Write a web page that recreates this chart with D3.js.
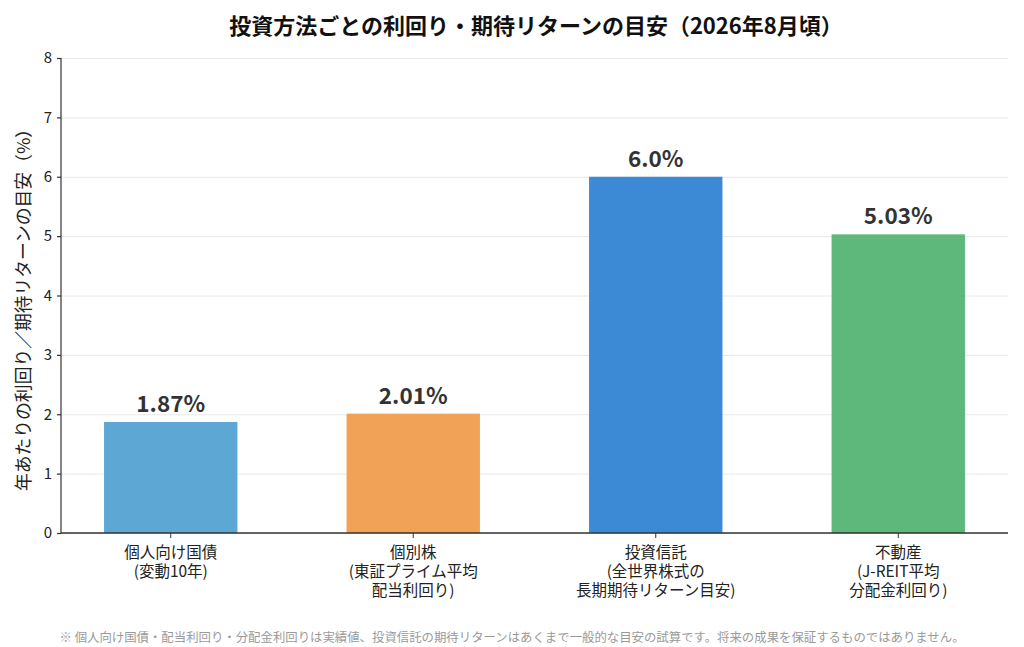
<!DOCTYPE html>
<html>
<head>
<meta charset="utf-8">
<script src="https://cdn.jsdelivr.net/npm/d3@7"></script>
<style>
  body { margin: 0; background: #fff; }
  svg { display: block; }
</style>
</head>
<body>
<svg id="chart" width="1024" height="647"></svg>
<script>
// data
const categories = ["個人向け国債", "個別株", "投資信託", "不動産"];
const subLabels = [
  ["(変動10年)"],
  ["(東証プライム平均", "配当利回り)"],
  ["(全世界株式の", "長期期待リターン目安)"],
  ["(J-REIT平均", "分配金利回り)"]
];
const values = [1.87, 2.01, 6.0, 5.03];
const valueLabels = ["1.87%", "2.01%", "6.0%", "5.03%"];
const colors = ["#5DA7D4", "#F1A256", "#3C89D6", "#5EB87B"];
const yTicks = [0, 1, 2, 3, 4, 5, 6, 7, 8];

const jp = "'Noto Sans CJK JP', 'Noto Sans', sans-serif";

const svg = d3.select("#chart");
const margin = {left: 61, right: 16, top: 58, bottom: 114};
const W = 1024, H = 647;

const x = d3.scaleBand()
  .domain(categories)
  .range([margin.left, W - margin.right])
  .paddingInner(0.45)
  .paddingOuter(0.1775);

const y = d3.scaleLinear()
  .domain([0, 8])
  .range([H - margin.bottom, margin.top]);

// grid
svg.append("g")
  .selectAll("line")
  .data(yTicks)
  .join("line")
  .attr("x1", margin.left)
  .attr("x2", W - margin.right)
  .attr("y1", d => y(d) + 0.5)
  .attr("y2", d => y(d) + 0.5)
  .attr("stroke", "#e8e8e8")
  .attr("stroke-width", 1);

// bars
svg.append("g")
  .selectAll("rect")
  .data(values)
  .join("rect")
  .attr("x", (d, i) => x(categories[i]))
  .attr("y", d => y(d))
  .attr("width", x.bandwidth())
  .attr("height", d => y(0) - y(d))
  .attr("fill", (d, i) => colors[i]);

// value labels
svg.append("g")
  .selectAll("text")
  .data(values)
  .join("text")
  .attr("x", (d, i) => x(categories[i]) + x.bandwidth() / 2)
  .attr("y", d => y(d) - 10)
  .attr("text-anchor", "middle")
  .attr("font-family", jp)
  .attr("font-weight", "bold")
  .attr("font-size", 22.5)
  .attr("fill", "#333")
  .text((d, i) => valueLabels[i]);

// y axis
const yAxis = svg.append("g")
  .attr("transform", `translate(${margin.left},0)`)
  .call(d3.axisLeft(y).tickValues(yTicks).tickSize(4).tickPadding(5));
yAxis.selectAll("text")
  .attr("font-family", jp)
  .attr("font-size", 15)
  .attr("fill", "#222");
yAxis.selectAll("line, path").attr("stroke", "#333").attr("stroke-width", 1.2);
yAxis.select(".domain").attr("d", `M0,${y(8)}V${y(0)}`);

// x axis
const xAxis = svg.append("g")
  .attr("transform", `translate(0,${y(0)})`)
  .call(d3.axisBottom(x).tickSize(5).tickFormat(""));
xAxis.selectAll("line").attr("stroke", "#333");
xAxis.select(".domain").attr("stroke", "#333").attr("stroke-width", 1.4)
  .attr("d", `M${margin.left},0H${W - margin.right}`);

// category labels, one text per line
const xl = svg.append("g");
categories.forEach((c, i) => {
  const lines = [c].concat(subLabels[i]);
  xl.selectAll(null)
    .data(lines)
    .join("text")
    .attr("x", x(c) + x.bandwidth() / 2)
    .attr("y", (l, k) => y(0) + 25 + k * 19)
    .attr("text-anchor", "middle")
    .attr("font-family", jp)
    .attr("font-size", 15.5)
    .attr("fill", "#222")
    .text(l => l);
});

// y label
svg.append("text")
  .attr("transform", `translate(30,${(y(0) + y(8)) / 2 + 10}) rotate(-90)`)
  .attr("text-anchor", "middle")
  .attr("font-family", jp)
  .attr("font-size", 17.8)
  .attr("fill", "#222")
  .text("年あたりの利回り／期待リターンの目安（%）");

// title
svg.append("text")
  .attr("x", 536)
  .attr("y", 34)
  .attr("text-anchor", "middle")
  .attr("font-family", jp)
  .attr("font-weight", "bold")
  .attr("font-size", 22)
  .attr("fill", "#111")
  .text("投資方法ごとの利回り・期待リターンの目安（2026年8月頃）");

// note
svg.append("text")
  .attr("x", 512)
  .attr("y", 642)
  .attr("text-anchor", "middle")
  .attr("font-family", jp)
  .attr("font-size", 12.4)
  .attr("fill", "#9a9a9a")
  .text("※ 個人向け国債・配当利回り・分配金利回りは実績値、投資信託の期待リターンはあくまで一般的な目安の試算です。将来の成果を保証するものではありません。");
</script>
</body>
</html>
